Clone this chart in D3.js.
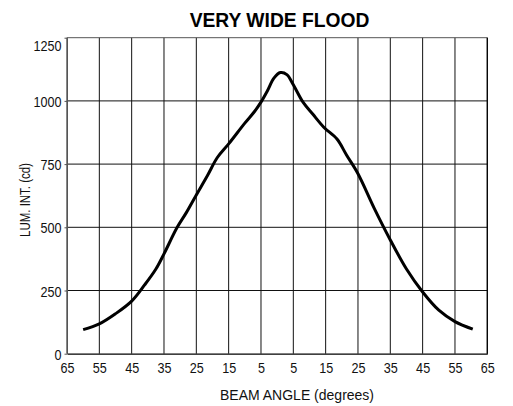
<!DOCTYPE html>
<html>
<head>
<meta charset="utf-8">
<script src="https://cdn.jsdelivr.net/npm/d3@7"></script>
<style>
  html, body { margin: 0; padding: 0; background: #fff; }
  svg { display: block; }
  text { font-family: "Liberation Sans", Arial, sans-serif; }
</style>
</head>
<body>
<svg id="chart" width="513" height="406"></svg>
<script>
// Beam angle (degrees, negative = left of centre) and luminous intensity (cd)
const beamAngles = [-60, -55, -50, -45, -41, -37.5, -35, -31, -28, -25, -21.5, -18.5, -15, -10, -7, -5, -3, -1,
                    1, 3, 5, 8, 11, 14.5, 18.5, 21.5, 25, 30, 35, 40, 45, 50, 55, 60.5];
const intensity  = [95, 118, 158, 208, 272, 335, 395, 498, 560, 628, 706, 776, 830, 912, 958, 995, 1040, 1090,
                    1112, 1104, 1064, 995, 948, 895, 849, 785, 712, 576, 450, 335, 244, 172, 127, 97];

const xTicks = [-65, -55, -45, -35, -25, -15, -5, 5, 15, 25, 35, 45, 55, 65];
const yTicks = [0, 250, 500, 750, 1000, 1250];

const titleText = "VERY WIDE FLOOD";
const xTitle = "BEAM ANGLE (degrees)";
const yTitle = "LUM. INT. (cd)";

// horizontal squeeze that gives the regular sans a condensed look
const condense = 0.82;

const svg = d3.select("#chart");
const W = 513, H = 406;
const margin = { top: 37.7, right: 25.7, bottom: 52.3, left: 67 };
const plotW = W - margin.left - margin.right;
const plotH = H - margin.top - margin.bottom;

const x = d3.scaleLinear().domain([-65, 65]).range([margin.left, margin.left + plotW]);
const y = d3.scaleLinear().domain([0, 1250]).range([margin.top + plotH, margin.top]);

// Grid: vertical lines at every angle tick
svg.append("g")
  .selectAll("line")
  .data(xTicks)
  .join("line")
  .attr("x1", d => x(d)).attr("x2", d => x(d))
  .attr("y1", y(1250)).attr("y2", y(0))
  .attr("stroke", "#111").attr("stroke-width", 1);

// Grid: horizontal lines at intensity ticks
svg.append("g")
  .selectAll("line")
  .data(yTicks.filter(d => d > 0 && d < 1250))
  .join("line")
  .attr("x1", x(-65)).attr("x2", x(65))
  .attr("y1", d => y(d)).attr("y2", d => y(d))
  .attr("stroke", "#111").attr("stroke-width", 1);

// Frame top edge
svg.append("line")
  .attr("x1", x(-65)).attr("x2", x(65))
  .attr("y1", y(1250)).attr("y2", y(1250))
  .attr("stroke", "#555").attr("stroke-width", 1);

// Bottom axis
const xAxis = d3.axisBottom(x)
  .tickValues(xTicks)
  .tickSize(0)
  .tickPadding(0)
  .tickFormat(d => String(Math.abs(d)));
const gx = svg.append("g")
  .attr("transform", `translate(0,${y(0)})`)
  .call(xAxis);
gx.select(".domain").attr("stroke", "#000").attr("stroke-width", 1.3);
gx.selectAll("text")
  .attr("font-size", 15.4)
  .attr("fill", "#111")
  .attr("dy", null)
  .attr("y", null)
  .attr("transform", `translate(0,19) scale(${condense},1)`);

// Left axis
const yAxis = d3.axisLeft(y)
  .tickValues(yTicks)
  .tickSize(2.5)
  .tickPadding(3)
  .tickSizeOuter(0)
  .tickFormat(d3.format("d"));
const gy = svg.append("g")
  .attr("transform", `translate(${margin.left},0)`)
  .call(yAxis);
gy.select(".domain").attr("stroke", "#555").attr("stroke-width", 1);
gy.selectAll(".tick line").attr("stroke", "#555");
gy.selectAll("text")
  .attr("font-size", 15.4)
  .attr("fill", "#111")
  .attr("x", null)
  .attr("dy", d => d === 1250 ? "0.85em" : "0.36em")
  .attr("transform", `translate(-5.5,0) scale(${condense},1)`);

// Right frame edge
svg.append("line")
  .attr("x1", x(65)).attr("x2", x(65))
  .attr("y1", y(1250)).attr("y2", y(0))
  .attr("stroke", "#000").attr("stroke-width", 1.2);

// Intensity curve
const points = beamAngles.map((a, i) => [a, intensity[i]]);
const line = d3.line()
  .x(d => x(d[0]))
  .y(d => y(d[1]))
  .curve(d3.curveCatmullRom.alpha(0.5));
svg.append("path")
  .datum(points)
  .attr("d", line)
  .attr("fill", "none")
  .attr("stroke", "#000")
  .attr("stroke-width", 3)
  .attr("stroke-linejoin", "round")
  .attr("stroke-linecap", "butt");

// Title
svg.append("text")
  .attr("transform", `translate(279.5,27.3) scale(0.94,1)`)
  .attr("text-anchor", "middle")
  .attr("font-size", 20.5)
  .attr("font-weight", "bold")
  .attr("fill", "#000")
  .text(titleText);

// Axis titles
svg.append("text")
  .attr("x", 297)
  .attr("y", 400)
  .attr("text-anchor", "middle")
  .attr("font-size", 14)
  .attr("fill", "#111")
  .text(xTitle);

svg.append("text")
  .attr("transform", `translate(30,200) rotate(-90) scale(${condense},1)`)
  .attr("text-anchor", "middle")
  .attr("font-size", 14)
  .attr("fill", "#111")
  .text(yTitle);
</script>
</body>
</html>
